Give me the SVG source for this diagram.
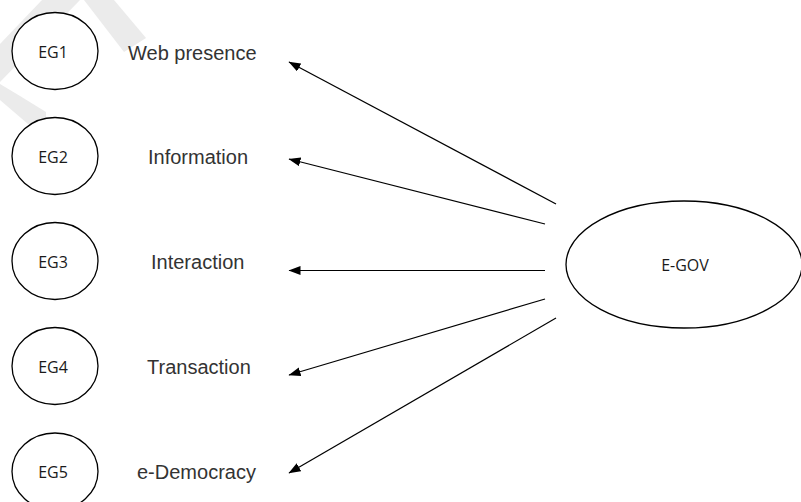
<svg xmlns="http://www.w3.org/2000/svg" width="801" height="502" viewBox="0 0 801 502">
  <style>
    .node { fill: #ffffff; stroke: #000000; stroke-width: 1.3; }
    .code { font-family: "Open Sans", "Noto Sans", "DejaVu Sans", sans-serif; font-size: 16px; fill: #1a1a1a; text-anchor: middle; }
    .label { font-family: "Liberation Sans", Arial, sans-serif; font-size: 20px; fill: #333333; }
    .edge { stroke: #000000; stroke-width: 1.2; fill: none; marker-end: url(#head); }
    .mark { fill: #ebebeb; }
  </style>
  <defs>
    <marker id="head" markerUnits="userSpaceOnUse" markerWidth="13" markerHeight="9" refX="11.5" refY="4.5" orient="auto">
      <path d="M0,0 L12,4.5 L0,9 Z" fill="#000000"/>
    </marker>
  </defs>

  <rect x="0" y="0" width="801" height="502" fill="#ffffff"/>

  <!-- faint background mark in the upper-left corner -->
  <g id="backmark">
    <polygon class="mark" points="42,0 80,0 0,82 0,44"/>
    <polygon class="mark" points="84,0 114,0 146,38 124,52"/>
    <polygon class="mark" points="0,84 0,100 28,124 46,124 46,112 20,96"/>
  </g>

  <!-- connectors from E-GOV to each dimension -->
  <g id="connectors">
    <line class="edge" x1="556" y1="204" x2="289" y2="62"/>
    <line class="edge" x1="545" y1="224" x2="289" y2="159"/>
    <line class="edge" x1="545" y1="270.5" x2="289" y2="270.5"/>
    <line class="edge" x1="545" y1="299" x2="289" y2="375"/>
    <line class="edge" x1="556" y1="318" x2="289" y2="473"/>
  </g>

  <g id="eg1">
    <ellipse class="node" cx="55" cy="51" rx="43" ry="38.5"/>
    <text class="code" x="53" y="57.5">EG1</text>
    <text class="label" x="128" y="60">Web presence</text>
  </g>
  <g id="eg2">
    <ellipse class="node" cx="55" cy="156" rx="43" ry="38.5"/>
    <text class="code" x="53" y="162.5">EG2</text>
    <text class="label" x="148" y="164">Information</text>
  </g>
  <g id="eg3">
    <ellipse class="node" cx="55" cy="261" rx="43" ry="38.5"/>
    <text class="code" x="53" y="267.5">EG3</text>
    <text class="label" x="151" y="269">Interaction</text>
  </g>
  <g id="eg4">
    <ellipse class="node" cx="55" cy="366" rx="43" ry="38.5"/>
    <text class="code" x="53" y="372.5">EG4</text>
    <text class="label" x="147" y="374">Transaction</text>
  </g>
  <g id="eg5">
    <ellipse class="node" cx="55" cy="471.5" rx="43" ry="38.5"/>
    <text class="code" x="53" y="478">EG5</text>
    <text class="label" x="137" y="479">e-Democracy</text>
  </g>

  <g id="egov">
    <ellipse class="node" cx="684" cy="264.5" rx="118" ry="63.5"/>
    <text class="code" x="685" y="271">E-GOV</text>
  </g>
</svg>
